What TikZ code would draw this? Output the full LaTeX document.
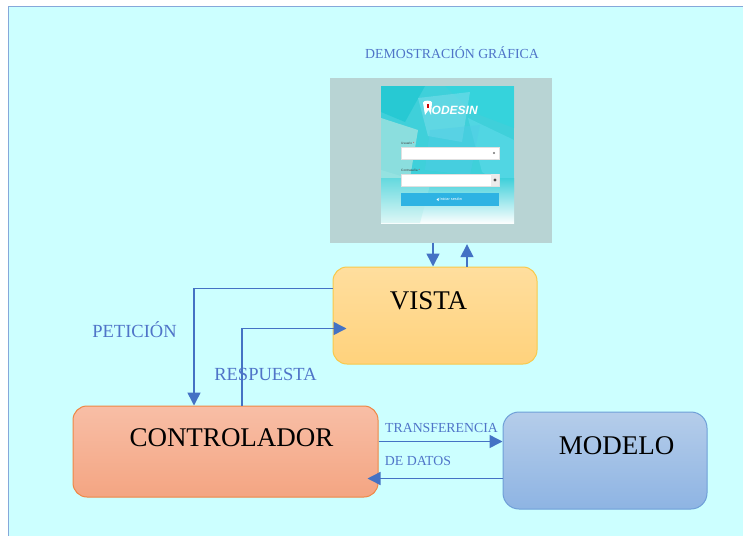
\documentclass[tikz,border=0pt]{standalone}
\usepackage{fontspec}
\setmainfont{Liberation Serif}
\newfontfamily\sansf{Liberation Sans}
\usetikzlibrary{arrows.meta,calc}
\definecolor{bgc}{HTML}{CCFFFF}
\definecolor{bgborder}{HTML}{86A8DA}
\definecolor{arrc}{HTML}{4472C4}
\definecolor{labc}{HTML}{4F74C8}
\definecolor{greybox}{HTML}{B8D4D4}
\definecolor{vtop}{HTML}{FFDE9E}
\definecolor{vbot}{HTML}{FFD27C}
\definecolor{vbrd}{HTML}{F8C94A}
\definecolor{ctop}{HTML}{F8BEA6}
\definecolor{cbot}{HTML}{F4A582}
\definecolor{cbrd}{HTML}{EE8745}
\definecolor{mtop}{HTML}{B5CDEA}
\definecolor{mbot}{HTML}{8EB4E3}
\definecolor{mbrd}{HTML}{6E9FD8}
\definecolor{teal1}{HTML}{3FD0DA}
\definecolor{btn}{HTML}{2EB3E3}
\tikzset{
  arr/.style={draw=arrc, line width=1.5pt, -{Triangle[length=13pt,width=13pt]}},
  boxtext/.style={anchor=base, text=black, font=\fontsize{27}{30}\selectfont, inner sep=0pt},
  lab/.style={anchor=base, text=labc, inner sep=0pt},
  biglab/.style={lab, font=\fontsize{18.5}{21}\selectfont},
  smalllab/.style={lab, font=\fontsize{13.8}{16}\selectfont},
  bigbox/.style={rectangle, rounded corners=14pt, line width=1pt, inner sep=0pt}
}
\begin{document}
\begin{tikzpicture}[x=1pt,y=-1pt]
\useasboundingbox (0,0) rectangle (743,535);
\fill[white] (0,0) rectangle (743,535);
\filldraw[fill=bgc, draw=bgborder, line width=1pt] (8,7) rectangle (760,550);

% title
\node[smalllab] (title) at (452,59) {DEMOSTRACIÓN GRÁFICA};

% grey picture frame
\node[rectangle, fill=greybox, minimum width=222pt, minimum height=165pt, inner sep=0pt] (grey) at (441,160) {};
% screenshot
\node[rectangle, minimum width=133pt, minimum height=137pt, inner sep=0pt] (shot) at (447.5,154.5) {};
\begin{scope}
  \clip (381,86) rectangle (514,223);
  \fill[teal1] (381,86) rectangle (514,223);
  \fill[opacity=.55, color={rgb,255:red,20;green,196;blue,206}] (381,86) -- (425,86) -- (405,122) -- (381,112) -- cycle;
  \fill[opacity=.55, color={rgb,255:red,45;green,214;blue,222}] (445,86) -- (514,86) -- (514,128) -- (472,112) -- cycle;
  \fill[opacity=.6, color={rgb,255:red,190;green,232;blue,225}] (381,118) -- (418,130) -- (410,178) -- (381,192) -- cycle;
  \fill[opacity=.5, color={rgb,255:red,100;green,220;blue,236}] (468,118) -- (514,140) -- (514,192) -- (482,172) -- cycle;
  \fill[opacity=.5, color={rgb,255:red,130;green,222;blue,236}] (418,98) -- (470,92) -- (462,142) -- (428,136) -- cycle;
  \fill[opacity=.45, color={rgb,255:red,80;green,205;blue,230}] (430,130) -- (480,125) -- (470,175) -- (425,170) -- cycle;
  \shade[top color=teal1, bottom color=white] (381,178) rectangle (514,224);
  \fill[opacity=.35, color={rgb,255:red,170;green,235;blue,232}] (381,170) -- (430,185) -- (420,223) -- (381,223) -- cycle;
  % logo
  \fill[white] (423,102.5) .. controls (423,100) and (432,100) .. (432,102.5) -- (431,115) -- (428.5,110) -- (425,115) -- cycle;
  \fill[red!80!black] (426.5,104) rectangle (428.5,108);
  \node[anchor=base west, inner sep=0pt, text=white, font=\sansf\bfseries\itshape\fontsize{12}{13}\selectfont] (logo) at (431.5,114) {ODESIN};
  % fields
  \node[anchor=base west, inner sep=0pt, text=black!75, font=\sansf\fontsize{3.2}{4}\selectfont] (usr) at (401,144) {Usuario \textcolor{red}{*}};
  \filldraw[fill=white, draw=black!12, line width=.3pt] (401,147) rectangle (499,159);
  \fill[black!55] (494,153) circle (1.2pt);
  \node[anchor=base west, inner sep=0pt, text=black!75, font=\sansf\fontsize{3.2}{4}\selectfont] (pwd) at (401,171) {Contraseña \textcolor{red}{*}};
  \filldraw[fill=white, draw=black!12, line width=.3pt] (401,174) rectangle (499,186);
  \fill[black!8] (491,174.3) rectangle (498.7,185.7);
  \fill[black!70] (495,180) circle (1.6pt);
  \fill[btn] (401,193) rectangle (499,206);
  \fill[white] (436.5,199.5) -- (438.5,198) -- (438.5,201) -- cycle;
  \node[anchor=west, inner sep=0pt, text=white, font=\sansf\fontsize{3.8}{4}\selectfont] (btntext) at (439.5,199.5) {Iniciar sesión};
\end{scope}

% boxes
\node[bigbox, draw=vbrd, top color=vtop, bottom color=vbot, minimum width=204pt, minimum height=97pt] (vista) at (435,315.5) {};
\node[bigbox, draw=cbrd, top color=ctop, bottom color=cbot, minimum width=305pt, minimum height=91pt] (ctrl) at (225.5,451.5) {};
\node[bigbox, draw=mbrd, top color=mtop, bottom color=mbot, minimum width=204pt, minimum height=97pt, rounded corners=16pt] (modelo) at (605,460.5) {};

\node[boxtext] (vistatxt) at (428.5,309) {VISTA};
\node[boxtext] (ctrltxt) at (231.5,446) {CONTROLADOR};
\node[boxtext] (modelotxt) at (616.5,454) {MODELO};

% arrows picture <-> vista
\draw[arr] ([xshift=-8pt]grey.south) -- ([xshift=-8pt]grey.south |- vista.north);
\draw[arr] ([xshift=26pt]grey.south |- vista.north) -- ([xshift=26pt,yshift=-1.5pt]grey.south);

% peticion / respuesta
\draw[arr] ([yshift=-22pt]vista.north west) -| ([xshift=-31.5pt]ctrl.north);
\draw[arr] ([xshift=16.5pt]ctrl.north) |- ([xshift=14pt,yshift=-62pt]vista.north west);
\node[biglab] (pet) at (134.5,337) {PETICIÓN};
\node[biglab] (resp) at (265.5,380) {RESPUESTA};

% transferencia de datos
\coordinate (t1) at ([yshift=-36pt]ctrl.north east);
\draw[arr] (t1) -- (t1 -| modelo.west);
\coordinate (r1) at ([yshift=-67pt]modelo.north west);
\coordinate (r2) at (r1 -| ctrl.east);
\draw[arr] (r1) -- ([xshift=-11pt]r2);
\node[smalllab] (trans) at (441.5,432.5) {TRANSFERENCIA};
\node[smalllab] (dedatos) at (418,465) {DE DATOS};
\end{tikzpicture}
\end{document}
